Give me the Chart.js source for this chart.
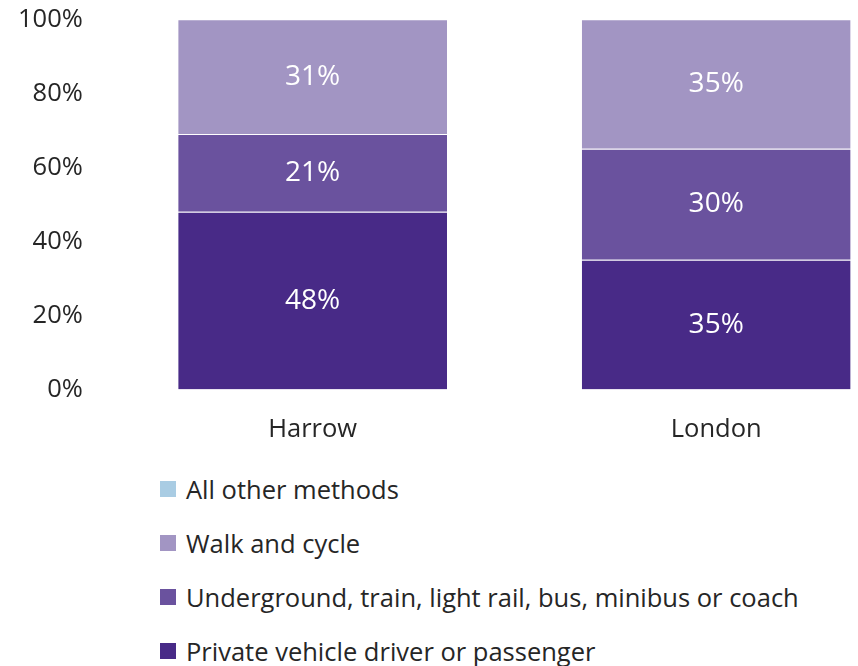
<!DOCTYPE html>
<html>
<head>
<meta charset="utf-8">
<script src="https://cdn.jsdelivr.net/npm/chart.js@4"></script>
<style>
  html, body { margin: 0; padding: 0; background: #fff; overflow: hidden; width: 858px; height: 666px; }
  #wrap { position: absolute; left: 0; top: -16px; width: 920px; height: 476px; }
  #legend { position: absolute; left: 160px; top: 462px; font-family: "Open Sans", sans-serif; font-size: 25.5px; color: #262626; }
  .item { height: 54px; display: flex; align-items: center; }
  .box { width: 16px; height: 16px; margin-right: 10px; }
</style>
</head>
<body>
<div id="wrap"><canvas id="chart"></canvas></div>
<div id="legend"></div>
<script>
const areas = ['Harrow', 'London'];
const seriesNames = ['Private vehicle driver or passenger', 'Underground, train, light rail, bus, minibus or coach', 'Walk and cycle', 'All other methods'];
const privateVehicle = [48, 35];
const publicTransport = [21, 30];
const walkCycle = [31, 35];
const otherMethods = [0, 0];
const colours = ['#482a87', '#6a529e', '#a295c3', '#a9cce3'];
const yTicks = [0, 20, 40, 60, 80, 100];

const values = [privateVehicle, publicTransport, walkCycle, otherMethods];

const barLabels = {
    id: 'barLabels',
    afterDatasetsDraw(chart) {
        const { ctx } = chart;
        ctx.save();
        ctx.font = '28px "Open Sans", sans-serif';
        ctx.fillStyle = '#fff';
        ctx.textAlign = 'center';
        ctx.textBaseline = 'middle';
        chart.data.datasets.forEach((ds, i) => {
            chart.getDatasetMeta(i).data.forEach((bar, j) => {
                const v = ds.data[j];
                if (!v) return;
                ctx.fillText(v + '%', bar.x, (bar.y + bar.base) / 2);
            });
        });
        ctx.restore();
    }
};

new Chart(document.getElementById('chart'), {
    type: 'bar',
    data: {
        labels: areas,
        datasets: values.map((d, i) => ({
            label: seriesNames[i],
            data: d,
            backgroundColor: colours[i],
            borderColor: 'rgba(255,255,255,0.7)',
            borderWidth: { top: 1 },
            borderSkipped: false,
            categoryPercentage: 1,
            barPercentage: 0.666
        }))
    },
    options: {
        responsive: true,
        maintainAspectRatio: false,
        animation: false,
        layout: { padding: { left: -2, right: 2, top: 0, bottom: -2 } },
        scales: {
            x: {
                stacked: true,
                grid: { display: false },
                border: { display: false },
                ticks: { color: '#262626', font: { family: 'Open Sans', size: 25.5 }, padding: 17 }
            },
            y: {
                stacked: true,
                min: 0,
                max: 100,
                afterBuildTicks: axis => { axis.ticks = yTicks.map(v => ({ value: v })); },
                grid: { display: false },
                border: { display: false },
                ticks: { color: '#262626', font: { family: 'Open Sans', size: 25.5 }, padding: 20, callback: v => v + '%' }
            }
        },
        plugins: {
            legend: { display: false },
            tooltip: { enabled: false }
        }
    },
    plugins: [barLabels]
});

const legend = document.getElementById('legend');
[3, 2, 1, 0].forEach(i => {
    const row = document.createElement('div');
    row.className = 'item';
    const box = document.createElement('span');
    box.className = 'box';
    box.style.background = colours[i];
    const txt = document.createElement('span');
    txt.textContent = seriesNames[i];
    row.appendChild(box);
    row.appendChild(txt);
    legend.appendChild(row);
});
</script>
</body>
</html>
